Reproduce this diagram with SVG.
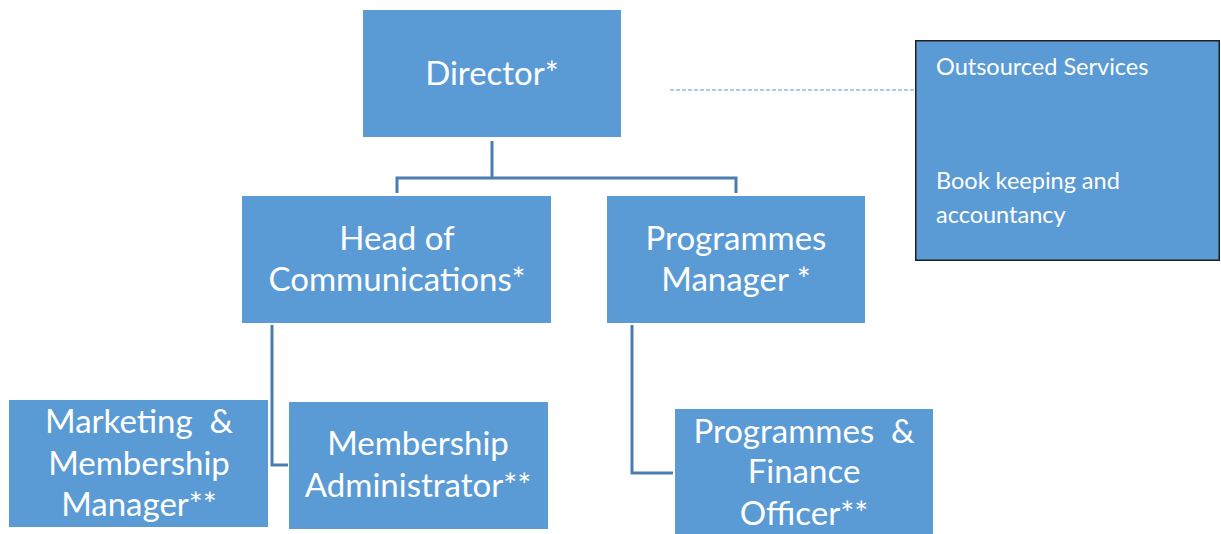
<svg xmlns="http://www.w3.org/2000/svg" width="1221" height="534" viewBox="0 0 1221 534">
  <style>
    .box { fill: #5B9BD5; }
    .box-edge { fill: #5B9BD5; stroke: #1F1F1F; stroke-width: 1.5; }
    .lbl { fill: #FFFFFF; font-family: Lato, "Open Sans", sans-serif; font-size: 33px; text-anchor: middle; white-space: pre; }
    .note { fill: #FFFFFF; font-family: Lato, "Open Sans", sans-serif; font-size: 23.5px; }
    .link { fill: none; stroke: #4A7EB0; stroke-width: 3; }
    .dash { fill: none; stroke: #5B9BD5; stroke-width: 1.2; stroke-dasharray: 4 2; }
  </style>
  <rect width="1221" height="534" fill="#FFFFFF"/>

  <!-- connectors -->
  <g id="connectors">
    <polyline class="link" points="397,193 397,178 736,178 736,193"/>
    <line class="link" x1="492" y1="141" x2="492" y2="178"/>
    <polyline class="link" points="272,325 272,465 288,465"/>
    <polyline class="link" points="632,325 632,473 673,473"/>
    <line class="dash" x1="670" y1="90" x2="915" y2="90"/>
  </g>

  <g id="director">
    <rect class="box" x="363" y="10" width="258" height="127"/>
    <text class="lbl" x="492" y="85">Director*</text>
  </g>

  <g id="head-of-communications">
    <rect class="box" x="242" y="196" width="309" height="127"/>
    <text class="lbl" x="397" y="250">Head of</text>
    <text class="lbl" x="397" y="291">Communications*</text>
  </g>

  <g id="programmes-manager">
    <rect class="box" x="607" y="196" width="258" height="127"/>
    <text class="lbl" x="736" y="250">Programmes</text>
    <text class="lbl" x="736" y="291">Manager *</text>
  </g>

  <g id="outsourced-services">
    <rect class="box-edge" x="915.75" y="40.75" width="303.5" height="219.5"/>
    <text class="note" x="936" y="75">Outsourced Services</text>
    <text class="note" x="936" y="189">Book keeping and</text>
    <text class="note" x="936" y="223">accountancy</text>
  </g>

  <g id="marketing-membership-manager">
    <rect class="box" x="9" y="400" width="259" height="127"/>
    <text class="lbl" x="139" y="433">Marketing  &amp;</text>
    <text class="lbl" x="139" y="475">Membership</text>
    <text class="lbl" x="139" y="516">Manager**</text>
  </g>

  <g id="membership-administrator">
    <rect class="box" x="289" y="402" width="259" height="127"/>
    <text class="lbl" x="418" y="455">Membership</text>
    <text class="lbl" x="418" y="497">Administrator**</text>
  </g>

  <g id="programmes-finance-officer">
    <rect class="box" x="675" y="409" width="258" height="125"/>
    <text class="lbl" x="804" y="443">Programmes  &amp;</text>
    <text class="lbl" x="804" y="483">Finance</text>
    <text class="lbl" x="804" y="525">Officer**</text>
  </g>
</svg>
